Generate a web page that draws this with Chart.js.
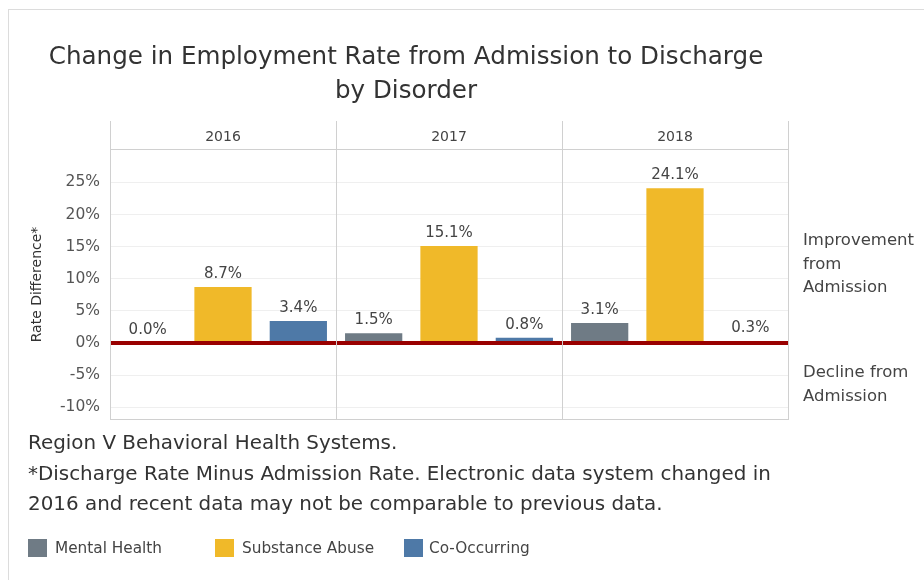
<!DOCTYPE html>
<html>
<head>
<title>Change in Employment Rate from Admission to Discharge by Disorder</title>
<script src="https://cdn.jsdelivr.net/npm/chart.js"></script>
<style>
  body { margin: 0; width: 924px; height: 580px; overflow: hidden; background: #fff; position: relative;
         font-family: "DejaVu Sans", sans-serif; color: #333; }
  #frame { position: absolute; left: 8px; top: 9px; width: 960px; height: 620px; border: 1px solid #dcdcdc; }
  #chart { position: absolute; left: 0; top: 0; }
  #title { position: absolute; left: 0; top: 39px; width: 812px; text-align: center;
           font-size: 24.6px; line-height: 34px; color: #333; }
  .note { position: absolute; left: 803px; font-size: 16.5px; line-height: 23.5px; color: #444; white-space: nowrap; }
  #footnote { position: absolute; left: 28px; top: 428px; font-size: 19.9px; line-height: 30.5px; color: #333; white-space: nowrap; }
  #legend { position: absolute; left: 0; top: 538px; font-size: 15.3px; color: #444; }
  .item { position: absolute; top: 0; white-space: nowrap; line-height: 20px; }
  .swatch { position: absolute; top: 1px; width: 19px; height: 18px; }
</style>
</head>
<body>
<div id="frame"></div>
<canvas id="chart" width="924" height="580"></canvas>
<div id="title">Change in Employment Rate from Admission to Discharge<br>by Disorder</div>
<div class="note" style="top:228px">Improvement<br>from<br>Admission</div>
<div class="note" style="top:360px">Decline from<br>Admission</div>
<div id="footnote">Region V Behavioral Health Systems.<br>*Discharge Rate Minus Admission Rate. Electronic data system changed in<br>2016 and recent data may not be comparable to previous data.</div>
<div id="legend"></div>

<script>
// data (percent change, discharge minus admission)
const years = ['2016', '2017', '2018'];
const disorders = ['Mental Health', 'Substance Abuse', 'Co-Occurring'];
const mentalHealth = [0.0, 1.5, 3.1];
const substanceAbuse = [8.7, 15.1, 24.1];
const coOccurring = [3.4, 0.8, 0.3];
const colors = ['#6f7b85', '#f0b929', '#4e79a7'];

const seriesValues = [mentalHealth, substanceAbuse, coOccurring];

// one category per year/disorder pair, datasets stacked so each bar uses the whole slot
const labels = [];
years.forEach(y => disorders.forEach(d => labels.push(y + ' ' + d)));

const datasets = disorders.map((name, di) => {
    const data = labels.map(() => null);
    years.forEach((y, yi) => { data[yi * disorders.length + di] = seriesValues[di][yi]; });
    return {
        label: name,
        data: data,
        backgroundColor: colors[di],
        barPercentage: 0.76,
        categoryPercentage: 1.0
    };
});

// legend built from the same arrays
const legendPos = [[28, 55], [215, 242], [404, 429]];
const legendEl = document.getElementById('legend');
disorders.forEach((name, i) => {
    const sw = document.createElement('div');
    sw.className = 'swatch';
    sw.style.left = legendPos[i][0] + 'px';
    sw.style.background = colors[i];
    legendEl.appendChild(sw);
    const tx = document.createElement('div');
    tx.className = 'item';
    tx.style.left = legendPos[i][1] + 'px';
    tx.textContent = name;
    legendEl.appendChild(tx);
});

// panel headers, borders, zero line and value labels
const panelPlugin = {
    id: 'panels',
    afterDatasetsDraw(chart) {
        const ctx = chart.ctx;
        const area = chart.chartArea;
        const x = chart.scales.x;
        const y = chart.scales.y;
        const headerTop = 121;
        const n = disorders.length;

        ctx.save();
        // zero line
        const y0 = y.getPixelForValue(0);
        ctx.strokeStyle = '#990000';
        ctx.lineWidth = 4;
        ctx.beginPath();
        ctx.moveTo(area.left, y0);
        ctx.lineTo(area.right, y0);
        ctx.stroke();

        // panel borders
        ctx.strokeStyle = '#d0d0d0';
        ctx.lineWidth = 1;
        ctx.beginPath();
        for (let p = 0; p <= years.length; p++) {
            const px = Math.round(x.getPixelForValue(p * n - 0.5)) + 0.5;
            ctx.moveTo(px, headerTop);
            ctx.lineTo(px, area.bottom);
        }
        ctx.moveTo(area.left, Math.round(area.top) + 0.5);
        ctx.lineTo(area.right, Math.round(area.top) + 0.5);
        ctx.moveTo(area.left, Math.round(area.bottom) - 0.5);
        ctx.lineTo(area.right, Math.round(area.bottom) - 0.5);
        ctx.stroke();

        // year headers
        ctx.fillStyle = '#444';
        ctx.font = '14px "DejaVu Sans", sans-serif';
        ctx.textAlign = 'center';
        ctx.textBaseline = 'middle';
        years.forEach((yr, yi) => {
            ctx.fillText(yr, x.getPixelForValue(yi * n + 1), 137);
        });

        // value labels
        ctx.font = '15px "DejaVu Sans", sans-serif';
        chart.data.datasets.forEach((ds, di) => {
            const meta = chart.getDatasetMeta(di);
            meta.data.forEach((bar, i) => {
                const v = ds.data[i];
                if (v === null) return;
                ctx.fillText(v.toFixed(1) + '%', bar.x, bar.y - 13);
            });
        });
        ctx.restore();
    }
};

new Chart(document.getElementById('chart'), {
    type: 'bar',
    data: { labels: labels, datasets: datasets },
    options: {
        responsive: false,
        animation: false,
        devicePixelRatio: 1,
        layout: { padding: { left: 20, right: 136, top: 149, bottom: 160 } },
        plugins: {
            legend: { display: false },
            tooltip: { enabled: false }
        },
        scales: {
            x: {
                stacked: true,
                display: false,
                ticks: { autoSkip: false }
            },
            y: {
                min: -12,
                max: 30.2,
                afterFit: scale => { scale.width = 90; },
                border: { display: false },
                grid: { color: '#efefef', drawTicks: false },
                ticks: {
                    stepSize: 5,
                    includeBounds: false,
                    padding: 10,
                    color: '#555',
                    font: { family: '"DejaVu Sans", sans-serif', size: 15.5 },
                    callback: v => (v > 25 ? null : v + '%')
                },
                title: {
                    display: true,
                    text: 'Rate Difference*',
                    color: '#333',
                    font: { family: '"DejaVu Sans", sans-serif', size: 14 },
                    padding: { top: 9 }
                }
            }
        }
    },
    plugins: [panelPlugin]
});
</script>
</body>
</html>
